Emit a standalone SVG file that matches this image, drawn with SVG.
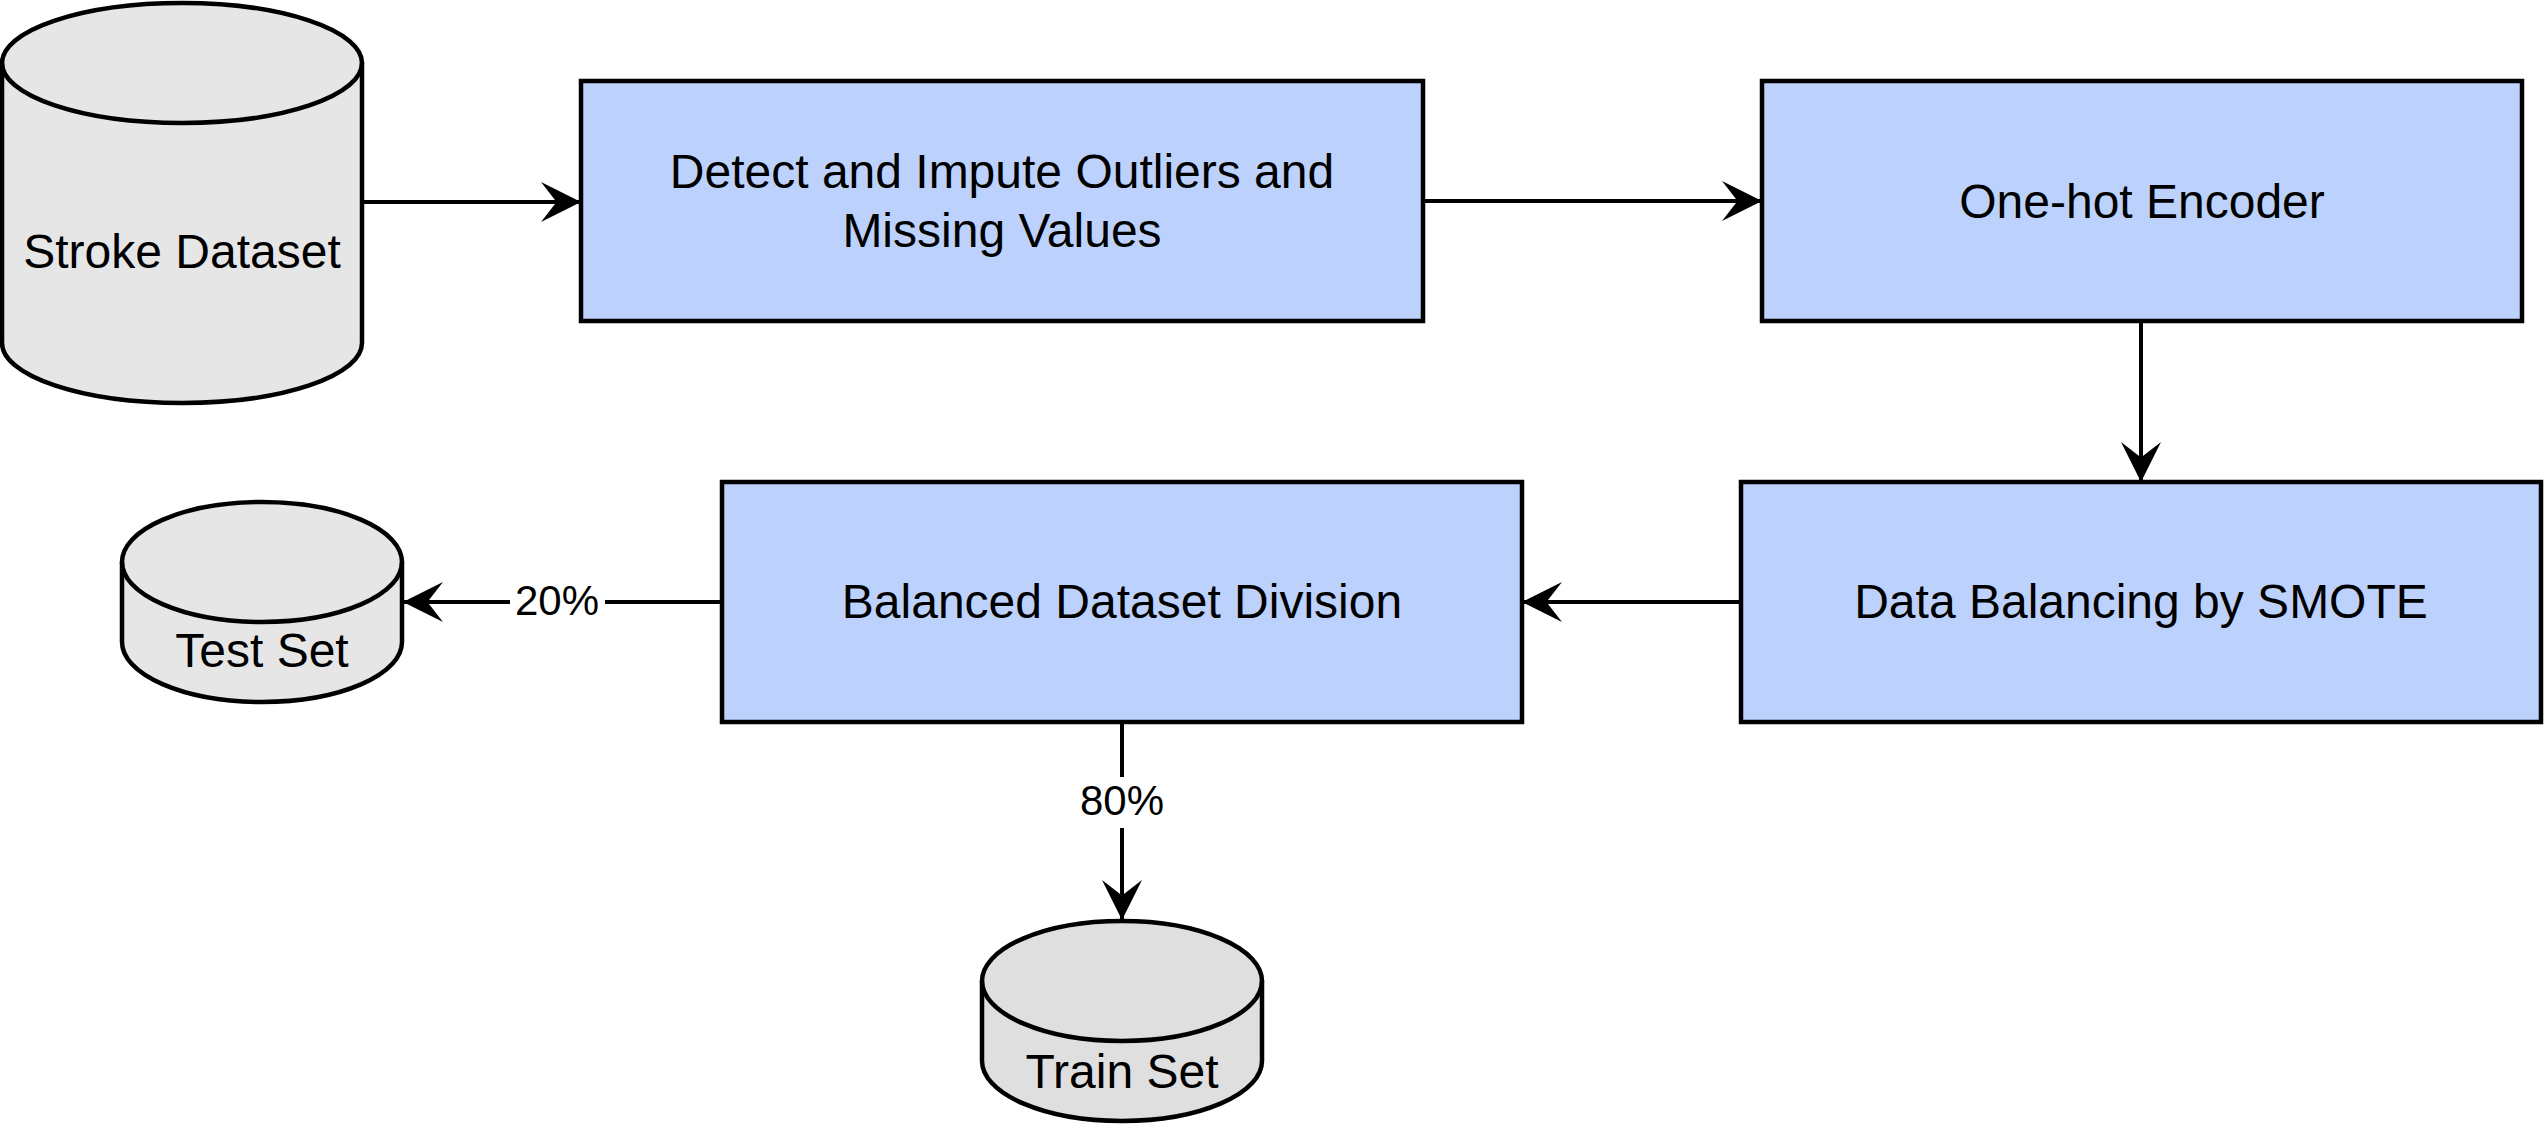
<svg xmlns="http://www.w3.org/2000/svg" width="2544" height="1124" viewBox="0 0 2544 1124">
<style>
.box{fill:#bcd2fd;stroke:#000;stroke-width:4.5}
.cyl{stroke:#000;stroke-width:4.5}
.lbl{font-family:Arial,"Liberation Sans",Helvetica,sans-serif;font-size:48px;fill:#000;text-anchor:middle}
.elbl{font-family:Arial,"Liberation Sans",Helvetica,sans-serif;font-size:42px;fill:#000;text-anchor:middle}
.edge{fill:none;stroke:#000;stroke-width:4}
</style>
<defs>
<marker id="arr" markerUnits="userSpaceOnUse" markerWidth="40" markerHeight="40" viewBox="0 0 36 36" refX="36" refY="18" orient="auto">
<path d="M0,0 L36,18 L0,36 L14,18 Z" fill="#000"/>
</marker>
</defs>
<rect width="2544" height="1124" fill="#fff"/>
<g id="connectors">
<path class="edge" d="M362,202 H581" marker-end="url(#arr)"/>
<path class="edge" d="M1423,201 H1762" marker-end="url(#arr)"/>
<path class="edge" d="M2141,321 V482" marker-end="url(#arr)"/>
<path class="edge" d="M1741,602 H1522" marker-end="url(#arr)"/>
<path class="edge" d="M722,602 H403" marker-end="url(#arr)"/>
<path class="edge" d="M1122,722 V920" marker-end="url(#arr)"/>
<rect x="510" y="578" width="95" height="48" fill="#fff"/>
<text class="elbl" x="557" y="615">20%</text>
<rect x="1078" y="777" width="88" height="51" fill="#fff"/>
<text class="elbl" x="1122" y="815">80%</text>
</g>
<g id="stroke-dataset">
<path class="cyl" fill="#e6e6e6" d="M2,63 A180,60 0 0 1 362,63 V343 A180,60 0 0 1 2,343 Z"/>
<path class="cyl" fill="none" d="M2,63 A180,60 0 0 0 362,63"/>
<text class="lbl" x="182" y="268">Stroke Dataset</text>
</g>
<g id="detect-impute">
<rect class="box" x="581" y="81" width="842" height="240"/>
<text class="lbl" x="1002" y="188">Detect and Impute Outliers and</text>
<text class="lbl" x="1002" y="247">Missing Values</text>
</g>
<g id="one-hot">
<rect class="box" x="1762" y="81" width="760" height="240"/>
<text class="lbl" x="2142" y="218">One-hot Encoder</text>
</g>
<g id="smote">
<rect class="box" x="1741" y="482" width="800" height="240"/>
<text class="lbl" x="2141" y="618">Data Balancing by SMOTE</text>
</g>
<g id="division">
<rect class="box" x="722" y="482" width="800" height="240"/>
<text class="lbl" x="1122" y="618">Balanced Dataset Division</text>
</g>
<g id="test-set">
<path class="cyl" fill="#e6e6e6" d="M122,562 A140,60 0 0 1 402,562 V642 A140,60 0 0 1 122,642 Z"/>
<path class="cyl" fill="none" d="M122,562 A140,60 0 0 0 402,562"/>
<text class="lbl" x="262" y="667">Test Set</text>
</g>
<g id="train-set">
<path class="cyl" fill="#dfdfdf" d="M982,981 A140,60 0 0 1 1262,981 V1061 A140,60 0 0 1 982,1061 Z"/>
<path class="cyl" fill="none" d="M982,981 A140,60 0 0 0 1262,981"/>
<text class="lbl" x="1122" y="1088">Train Set</text>
</g>
</svg>
